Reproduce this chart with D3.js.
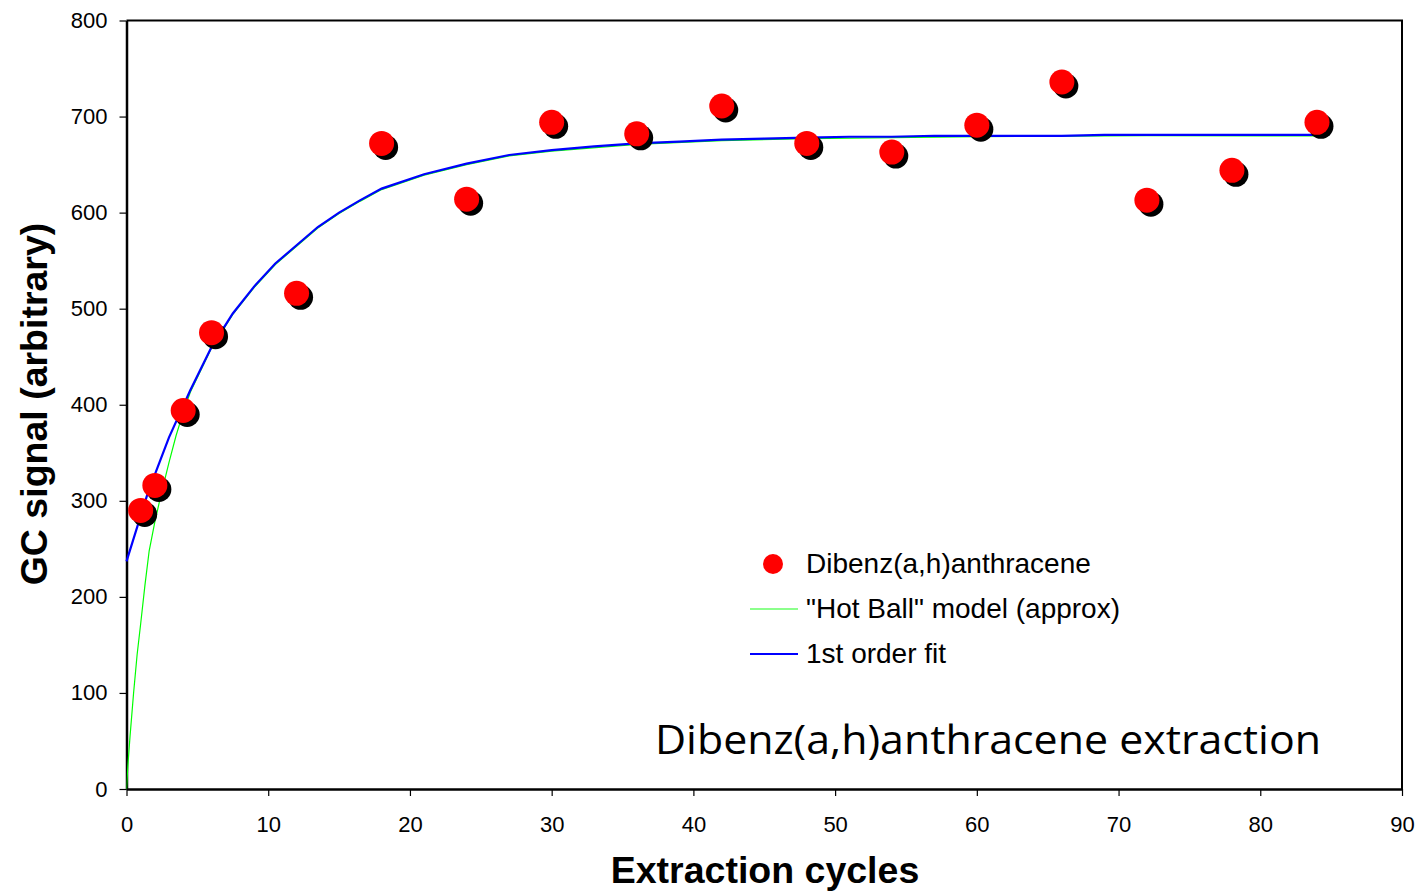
<!DOCTYPE html>
<html>
<head>
<meta charset="utf-8">
<script src="https://cdn.jsdelivr.net/npm/d3@7"></script>
<style>
  html, body { margin: 0; padding: 0; background: #fff; }
  svg { display: block; }
</style>
</head>
<body>
<svg id="chart" width="1420" height="893"></svg>
<script>
// Measured GC signal per extraction cycle
const cycles = [1, 2, 4, 6, 12, 18, 24, 30, 36, 42, 48, 54, 60, 66, 72, 78, 84];
const signal = [290, 316, 394, 475, 516, 672, 614, 694, 682, 711, 672, 663, 691, 736, 613, 644, 694];

// First-order fit curve
const fitX = [0, 1.5, 3, 4.5, 6, 7.5, 9, 10.5, 12, 13.5, 15, 16.5, 18, 21, 24, 27, 30, 33, 36, 39, 42, 45, 48, 51, 54, 57, 60, 63, 66, 69, 72, 75, 78, 81, 84];
const fitY = [237, 308, 366, 415, 460, 495, 523, 547, 566, 585, 600, 613, 625, 640, 651, 660, 665, 669, 672, 674, 676, 677, 678, 679, 679, 680, 680, 680, 680, 681, 681, 681, 681, 681, 681];

// "Hot Ball" model (approx)
const hotX = [0, 0.1, 0.25, 0.5, 0.75, 1, 1.3, 1.6, 2, 2.4, 3, 3.5, 4, 4.5, 6, 7.5, 9, 10.5, 12, 13.5, 15, 16.5, 18, 21, 24, 27, 30, 36, 42, 48, 60, 72, 84];
const hotY = [0, 25, 55, 100, 140, 172, 212, 248, 278, 304, 340, 368, 392, 413, 459, 494, 522, 546, 565, 584, 599, 612, 624, 639, 650, 659, 664, 671, 675, 677, 679, 680, 680];

const xTicks = [0, 10, 20, 30, 40, 50, 60, 70, 80, 90];
const yTicks = [0, 100, 200, 300, 400, 500, 600, 700, 800];

const legendLabels = ["Dibenz(a,h)anthracene", "\"Hot Ball\" model (approx)", "1st order fit"];
const annotation = "Dibenz(a,h)anthracene extraction";
const xTitle = "Extraction cycles";
const yTitle = "GC signal (arbitrary)";

const svg = d3.select("#chart");
const plotL = 126.5, plotR = 1402, plotT = 20.5, plotB = 789;

const x = d3.scaleLinear().domain([0, 90]).range([plotL, plotR]);
const y = d3.scaleLinear().domain([0, 800]).range([plotB, plotT]);

const tickFont = "Liberation Sans, Arial, sans-serif";

// Frame (top and right edges)
svg.append("path")
  .attr("d", `M${plotL},${plotT}H${plotR}V${plotB}`)
  .attr("fill", "none").attr("stroke", "#000").attr("stroke-width", 2);

// Axes
const xAxis = svg.append("g").attr("transform", `translate(0,${plotB})`)
  .call(d3.axisBottom(x).tickValues(xTicks).tickSize(7).tickPadding(20).tickSizeOuter(0));
const yAxis = svg.append("g").attr("transform", `translate(${plotL},0)`)
  .call(d3.axisLeft(y).tickValues(yTicks).tickSize(7).tickPadding(12).tickSizeOuter(0));

[xAxis, yAxis].forEach(g => {
  g.select(".domain").attr("stroke", "#000").attr("stroke-width", 2.5);
  g.selectAll(".tick line").attr("stroke", "#000").attr("stroke-width", 1.2);
  g.selectAll(".tick text").attr("fill", "#000")
    .style("font-family", tickFont).style("font-size", "22px");
});

// Curves
svg.append("clipPath").attr("id", "plotClip")
  .append("rect").attr("x", plotL).attr("y", plotT).attr("width", plotR - plotL).attr("height", plotB - plotT);

svg.append("path")
  .datum(hotX.map((v, i) => [v, hotY[i]]))
  .attr("d", d3.line().x(d => x(d[0])).y(d => y(d[1])))
  .attr("fill", "none").attr("stroke", "#00ff00").attr("stroke-width", 1.2)
  .attr("clip-path", "url(#plotClip)");

svg.append("path")
  .datum(fitX.map((v, i) => [v, fitY[i]]))
  .attr("d", d3.line().x(d => x(d[0])).y(d => y(d[1])))
  .attr("fill", "none").attr("stroke", "#0000ff").attr("stroke-width", 2.2);

// Data points with drop shadow
const pts = cycles.map((c, i) => [c, signal[i]]);
svg.append("g").selectAll("circle").data(pts).join("circle")
  .attr("cx", d => x(d[0]) + 4).attr("cy", d => y(d[1]) + 4).attr("r", 12.5)
  .attr("fill", "#000");
svg.append("g").selectAll("circle").data(pts).join("circle")
  .attr("cx", d => x(d[0])).attr("cy", d => y(d[1])).attr("r", 12.5)
  .attr("fill", "#ff0000");

// Legend
const leg = svg.append("g");
leg.append("circle").attr("cx", 773).attr("cy", 564).attr("r", 10).attr("fill", "#ff0000");
leg.append("line").attr("x1", 750).attr("x2", 798).attr("y1", 609).attr("y2", 609)
  .attr("stroke", "#66ff66").attr("stroke-width", 1.5);
leg.append("line").attr("x1", 750).attr("x2", 798).attr("y1", 654).attr("y2", 654)
  .attr("stroke", "#0000ff").attr("stroke-width", 2.2);
legendLabels.forEach((t, i) => {
  leg.append("text").attr("x", 806).attr("y", 573 + i * 45)
    .style("font-family", tickFont).style("font-size", "28px").attr("fill", "#000").text(t);
});

// In-plot annotation
svg.append("text").attr("x", 655).attr("y", 754)
  .attr("textLength", 666).attr("lengthAdjust", "spacingAndGlyphs")
  .style("font-family", "Open Sans, DejaVu Sans, sans-serif").style("font-size", "41px")
  .attr("fill", "#000").text(annotation);

// Axis titles
svg.append("text").attr("x", 765).attr("y", 883).attr("text-anchor", "middle")
  .style("font-family", tickFont).style("font-size", "37.5px").style("font-weight", "bold")
  .text(xTitle);
svg.append("text").attr("transform", "translate(47,404) rotate(-90)").attr("text-anchor", "middle")
  .style("font-family", tickFont).style("font-size", "37.5px").style("font-weight", "bold")
  .text(yTitle);
</script>
</body>
</html>
